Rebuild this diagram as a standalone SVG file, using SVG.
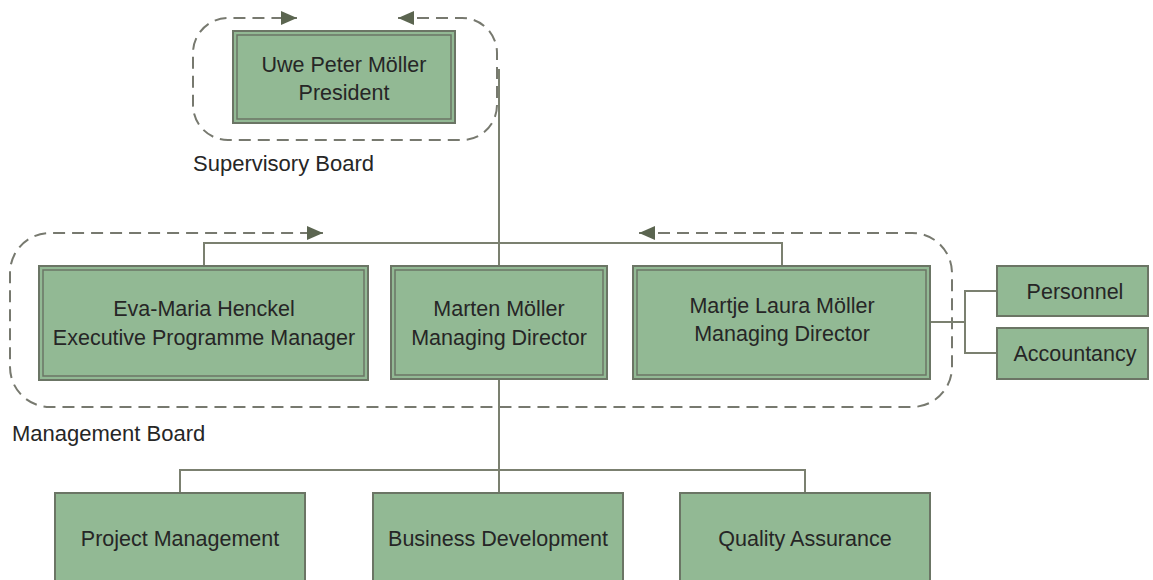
<svg xmlns="http://www.w3.org/2000/svg" width="1153" height="580" viewBox="0 0 1153 580">
<style>
.box{fill:#92b994;stroke:#6b7565;stroke-width:2}
.inner{fill:none;stroke:#6b7565;stroke-width:1.5}
.t{font-family:"Liberation Sans",Arial,sans-serif;font-size:21.5px;fill:#262626;text-anchor:middle}
.lbl{font-family:"Liberation Sans",Arial,sans-serif;font-size:22px;fill:#262626}
.con{fill:none;stroke:#7b8070;stroke-width:2}
.dash{fill:none;stroke:#77796f;stroke-width:2;stroke-dasharray:12 7}
</style>
<defs>
<marker id="ah" viewBox="0 0 16 14" refX="16" refY="7" markerWidth="16" markerHeight="14" markerUnits="userSpaceOnUse" orient="auto-start-reverse">
<path d="M0,0 L16,7 L0,14 Z" fill="#5b6550"/>
</marker>
</defs>
<rect width="1153" height="580" fill="#ffffff"/>
<g id="supervisory-board">
<path class="dash" d="M398,18 H462 A35,35 0 0 1 497,53 V105 A35,35 0 0 1 462,140 H228 A35,35 0 0 1 193,105 V53 A35,35 0 0 1 228,18 H297" marker-start="url(#ah)" marker-end="url(#ah)"/>
<text class="lbl" x="193" y="171">Supervisory Board</text>
</g>
<g id="management-board">
<path class="dash" d="M639,233 H912 A40,40 0 0 1 952,273 V367 A40,40 0 0 1 912,407 H50 A40,40 0 0 1 10,367 V273 A40,40 0 0 1 50,233 H323" marker-start="url(#ah)" marker-end="url(#ah)"/>
<text class="lbl" x="12" y="441">Management Board</text>
</g>
<g id="connectors">
<path class="con" d="M499,69 V266"/>
<path class="con" d="M204,266 V243 H782 V266"/>
<path class="con" d="M499,379 V493"/>
<path class="con" d="M180,493 V470 H805 V493"/>
<path class="con" d="M930,322 H965"/>
<path class="con" d="M997,291 H965 V353 H997"/>
</g>
<g id="president">
<rect class="box" x="233" y="31" width="222" height="92"/>
<rect class="inner" x="237" y="35" width="214" height="84"/>
<text class="t" x="344" y="72">Uwe Peter Möller</text>
<text class="t" x="344" y="100">President</text>
</g>
<g id="eva-maria-henckel">
<rect class="box" x="39" y="266" width="329" height="114"/>
<rect class="inner" x="43" y="270" width="321" height="106"/>
<text class="t" x="204" y="316">Eva-Maria Henckel</text>
<text class="t" x="204" y="345">Executive Programme Manager</text>
</g>
<g id="marten-moeller">
<rect class="box" x="391" y="266" width="216" height="113"/>
<rect class="inner" x="395" y="270" width="208" height="105"/>
<text class="t" x="499" y="316">Marten Möller</text>
<text class="t" x="499" y="345">Managing Director</text>
</g>
<g id="martje-laura-moeller">
<rect class="box" x="633" y="266" width="297" height="113"/>
<rect class="inner" x="637" y="270" width="289" height="105"/>
<text class="t" x="782" y="313">Martje Laura Möller</text>
<text class="t" x="782" y="341">Managing Director</text>
</g>
<g id="personnel">
<rect class="box" x="997" y="266" width="151" height="50"/>
<text class="t" x="1075" y="299">Personnel</text>
</g>
<g id="accountancy">
<rect class="box" x="997" y="328" width="151" height="51"/>
<text class="t" x="1075" y="361">Accountancy</text>
</g>
<g id="project-management">
<rect class="box" x="55" y="493" width="250" height="110"/>
<text class="t" x="180" y="546">Project Management</text>
</g>
<g id="business-development">
<rect class="box" x="373" y="493" width="250" height="110"/>
<text class="t" x="498" y="546">Business Development</text>
</g>
<g id="quality-assurance">
<rect class="box" x="680" y="493" width="250" height="110"/>
<text class="t" x="805" y="546">Quality Assurance</text>
</g>
</svg>
